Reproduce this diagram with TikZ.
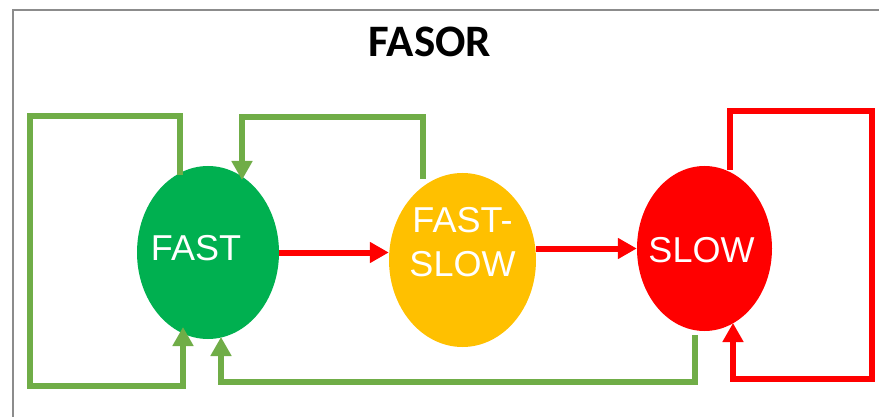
\documentclass[tikz,border=0pt]{standalone}
\usepackage{fontspec}
\setmainfont{Liberation Sans}
\newfontfamily\titlefont{Carlito}
\usetikzlibrary{shapes.geometric,arrows.meta,calc}
\definecolor{stgreen}{HTML}{00B050}
\definecolor{storange}{HTML}{FFC000}
\definecolor{stred}{HTML}{FF0000}
\definecolor{lngreen}{HTML}{70AD47}
\definecolor{framegray}{HTML}{8C8C8C}
\tikzset{
  state/.style={ellipse, inner sep=0pt, text=white, font=\fontsize{36}{44}\selectfont, align=center},
  tipg/.style={-{Triangle[length=19pt 0 0,width=20pt 0 0]}},
  gline/.style={draw=lngreen, line width=6pt, tipg},
  rline/.style={draw=stred, line width=6pt, tipg},
}
\begin{document}
\begin{tikzpicture}[x=1pt,y=-1pt]
\useasboundingbox (0,0) rectangle (879,417);
\fill[white] (0,0) rectangle (879,417);
\draw[framegray, line width=2pt] (13,417) -- (13,10) -- (879,10);
\node[font=\titlefont\bfseries\fontsize{45}{50}\selectfont, anchor=base] (title) at (430,57) {FASOR};

\node[state, fill=stgreen, minimum width=142pt, minimum height=173pt] (fast) at (208,252.5)
  {\raisebox{-7.5pt}[0pt][0pt]{\makebox[0pt]{\hspace*{-24pt}FAST}}};
\node[state, fill=storange, minimum width=147pt, minimum height=174pt] (fs) at (462.5,260)
  {\raisebox{8pt}[0pt][0pt]{\makebox[0pt]{\begin{tabular}{@{}c@{}}FAST-\\SLOW\end{tabular}}}};
\node[state, fill=stred, minimum width=135pt, minimum height=165pt] (slow) at (704.5,248.5)
  {\raisebox{-13.5pt}[0pt][0pt]{\makebox[0pt]{\hspace*{-6pt}SLOW}}};

\coordinate (l1s) at ($(fast.center)+(-28,-77.5)$);
\coordinate (l1e) at ($(fast.center)+(-25,74.5)$);
\coordinate (l2s) at ($(fs.center)+(-39.5,-81)$);
\coordinate (l2e) at ($(fast.center)+(34,-72.5)$);
\coordinate (l3s) at ($(slow.center)+(-9.5,86.5)$);
\coordinate (l3e) at ($(fast.center)+(13,84.5)$);
\coordinate (l4s) at ($(slow.center)+(25.5,-78.5)$);
\coordinate (l4e) at ($(slow.center)+(28.5,74.5)$);

\draw[gline] (l1s) -- ++(0,-59) -| (30,386) -| (l1e);
\draw[gline] (l2s) -- ++(0,-62) -| (l2e);
\draw[gline] (l3s) -- ++(0,47) -| (l3e);
\draw[rline] (l4s) -- ++(0,-59) -| (872,379) -| (l4e);
\draw[rline] (fast.east) -- (fast.east -| fs.west);
\draw[rline] (fs.east |- slow.west) -- (slow.west);
\end{tikzpicture}
\end{document}
